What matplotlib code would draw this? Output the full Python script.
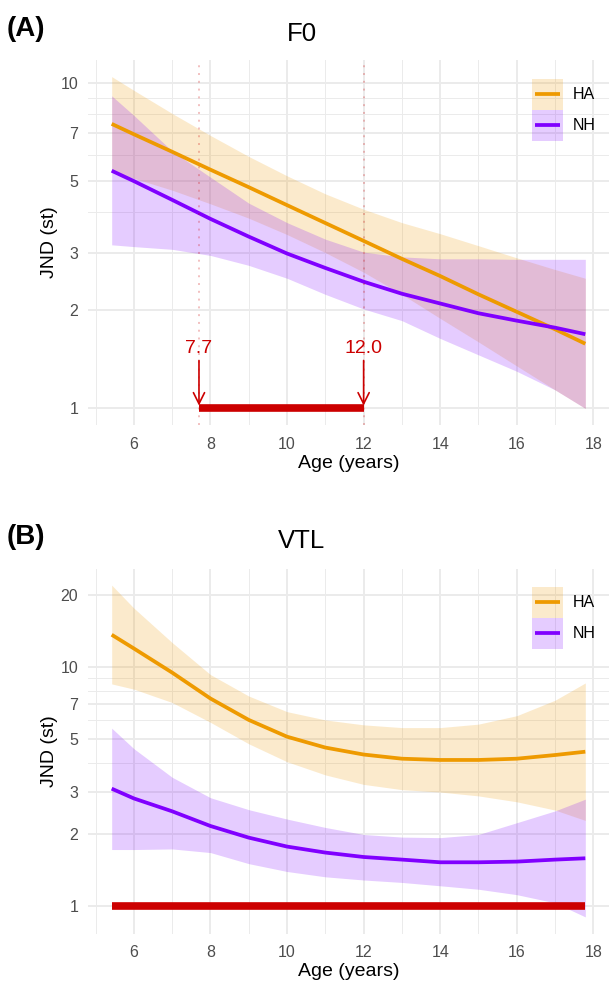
import numpy as np
import matplotlib
matplotlib.use("Agg")
import matplotlib.pyplot as plt
from matplotlib.patches import Patch, Rectangle
from matplotlib.lines import Line2D
from matplotlib.legend_handler import HandlerBase
from matplotlib.ticker import FixedLocator, NullFormatter, FixedFormatter

plt.rcParams['font.family'] = ['Liberation Sans', 'DejaVu Sans']

age = [5.42, 6, 7, 8, 9, 10, 11, 12, 13, 14, 15, 16, 17, 17.79]

# F0 panel
f0_ha_fit = [7.48, 6.95, 6.14, 5.41, 4.78, 4.21, 3.71, 3.27, 2.88, 2.55, 2.24, 1.98, 1.75, 1.58]
f0_ha_hi = [10.45, 9.48, 8.05, 6.89, 5.94, 5.18, 4.56, 4.09, 3.72, 3.44, 3.16, 2.90, 2.67, 2.51]
f0_ha_lo = [5.36, 5.09, 4.68, 4.25, 3.84, 3.42, 3.01, 2.62, 2.24, 1.89, 1.60, 1.35, 1.14, 1.00]
f0_nh_fit = [5.37, 4.99, 4.37, 3.82, 3.37, 2.99, 2.70, 2.45, 2.25, 2.10, 1.96, 1.86, 1.77, 1.69]
f0_nh_hi = [9.12, 7.94, 6.17, 5.13, 4.27, 3.72, 3.31, 3.02, 2.92, 2.88, 2.88, 2.87, 2.87, 2.87]
f0_nh_lo = [3.18, 3.14, 3.08, 2.95, 2.75, 2.51, 2.24, 2.02, 1.86, 1.64, 1.46, 1.30, 1.14, 1.00]
f0_onset = [7.7, 12.0]

# VTL panel
vtl_ha_fit = [13.7, 12.0, 9.51, 7.41, 6.03, 5.13, 4.62, 4.32, 4.15, 4.10, 4.10, 4.15, 4.30, 4.44]
vtl_ha_hi = [22.1, 17.7, 12.7, 9.33, 7.59, 6.53, 6.03, 5.75, 5.60, 5.60, 5.79, 6.28, 7.29, 8.61]
vtl_ha_lo = [8.53, 8.11, 7.13, 5.89, 4.79, 4.03, 3.55, 3.24, 3.08, 3.01, 2.90, 2.74, 2.53, 2.29]
vtl_nh_fit = [3.11, 2.83, 2.50, 2.17, 1.94, 1.78, 1.68, 1.61, 1.57, 1.53, 1.53, 1.54, 1.57, 1.59]
vtl_nh_hi = [5.57, 4.57, 3.47, 2.85, 2.54, 2.32, 2.14, 2.00, 1.95, 1.94, 2.00, 2.24, 2.51, 2.81]
vtl_nh_lo = [1.73, 1.73, 1.74, 1.68, 1.51, 1.40, 1.33, 1.29, 1.26, 1.22, 1.18, 1.12, 1.035, 0.904]

groups = ["HA", "NH"]
x_ticks = [6, 8, 10, 12, 14, 16, 18]
f0_yticks = [1, 2, 3, 5, 7, 10]
vtl_yticks = [1, 2, 3, 5, 7, 10, 20]

col = {"HA": "#EE9A00", "NH": "#8000FF"}
red = "#CC0000"
grid = "#EBEBEB"


class KeyHandler(HandlerBase):
    # ggplot-like key: shaded square with the line through its middle
    def create_artists(self, legend, orig_handle, xdescent, ydescent, width, height, fontsize, trans):
        c = orig_handle.get_facecolor()[:3]
        r = Rectangle((-xdescent, -ydescent), width, height, facecolor=c, alpha=0.2, lw=0,
                      transform=trans)
        yc = -ydescent + height / 2
        l = Line2D([-xdescent + 0.1 * width, -xdescent + 0.9 * width], [yc, yc], color=c, lw=2.7,
                   solid_capstyle='butt', transform=trans)
        return [r, l]


fig = plt.figure(figsize=(6.11, 9.82), dpi=100)
axA = fig.add_axes([88/611, 1-425/982, 521/611, 365/982])
axB = fig.add_axes([88/611, 1-933.5/982, 521/611, 365/982])


def panel(ax, series, yticks, title, tag, title_y, tag_y, leg_top):
    ax.set_yscale("log")
    for g in groups:
        fit, lo, hi = series[g]
        ax.fill_between(age, lo, hi, color=col[g], alpha=0.2, lw=0, zorder=2)
    for g in groups:
        fit, lo, hi = series[g]
        ax.plot(age, fit, color=col[g], lw=2.7, zorder=3, solid_capstyle='butt')
    ax.margins(x=0.05, y=0.05)
    ax.xaxis.set_major_locator(FixedLocator(x_ticks))
    ax.xaxis.set_minor_locator(FixedLocator([5, 7, 9, 11, 13, 15, 17, 19]))
    ax.yaxis.set_major_locator(FixedLocator(yticks))
    ax.yaxis.set_major_formatter(FixedFormatter([str(v) for v in yticks]))
    ax.yaxis.set_minor_locator(FixedLocator([4, 6, 8, 9]))
    ax.yaxis.set_minor_formatter(NullFormatter())
    ax.grid(True, which='major', color=grid, lw=1.4, zorder=0)
    ax.grid(True, which='minor', color=grid, lw=0.7, zorder=0)
    ax.set_axisbelow(True)
    for s in ax.spines.values():
        s.set_visible(False)
    ax.tick_params(which='both', length=0)
    ax.tick_params(axis='y', pad=7, labelsize=11.5, labelcolor='#4D4D4D')
    ax.tick_params(axis='x', pad=8.5, labelsize=11.5, labelcolor='#4D4D4D')
    ax.set_xlabel("Age (years)", fontsize=14)
    ax.set_ylabel("JND (st)", fontsize=14)
    ax.xaxis.set_label_coords(0.5, -0.081)
    ax.yaxis.set_label_coords(-0.057, 0.5)
    fig.text(302/611, 1-title_y/982, title, fontsize=18.5, ha='center', va='center')
    fig.text(7/611, 1-tag_y/982, tag, fontsize=20, fontweight='bold', ha='left', va='center')
    handles = [Patch(facecolor=col[g]) for g in groups]
    ax.legend(handles, groups, loc='upper left', bbox_to_anchor=(532/611, 1-leg_top/982),
              bbox_transform=fig.transFigure, frameon=False, fontsize=11.5,
              handlelength=1.94, handleheight=2.6, labelspacing=0.0,
              handletextpad=0.63, borderpad=0, borderaxespad=0,
              handler_map={Patch: KeyHandler()})


panel(axA, {"HA": (f0_ha_fit, f0_ha_lo, f0_ha_hi), "NH": (f0_nh_fit, f0_nh_lo, f0_nh_hi)},
      f0_yticks, "F0", "(A)", 34, 29, 79)
panel(axB, {"HA": (vtl_ha_fit, vtl_ha_lo, vtl_ha_hi), "NH": (vtl_nh_fit, vtl_nh_lo, vtl_nh_hi)},
      vtl_yticks, "VTL", "(B)", 541, 537, 587)

# F0: significant difference from onset to end
for a in f0_onset:
    axA.axvline(a, color=red, alpha=0.25, lw=1.4, ls=(0, (1, 3)), zorder=4)
    axA.annotate("", xy=(a, 1), xytext=(0, 34.5), textcoords='offset points',
                 arrowprops=dict(arrowstyle='->', color=red, lw=1.2, mutation_scale=20,
                                 shrinkA=0, shrinkB=2), zorder=6)
    axA.annotate(f"{a:.1f}", xy=(a, 1), xytext=(0, 39.6), textcoords='offset points',
                 ha='center', va='baseline', color=red, fontsize=14, zorder=6)
axA.plot(f0_onset, [1, 1], color=red, lw=5.5, solid_capstyle='butt', zorder=5)

# VTL: difference over the whole age range
axB.plot([age[0], age[-1]], [1, 1], color=red, lw=5.5, solid_capstyle='butt', zorder=5)

fig.savefig("out.png", dpi=100, facecolor='white')
